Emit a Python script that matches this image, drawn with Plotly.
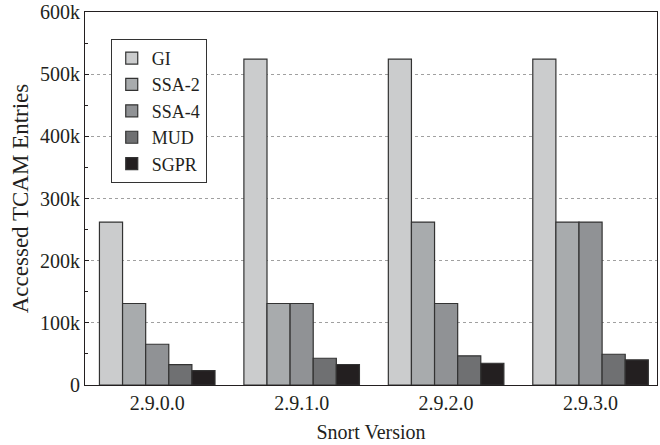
import plotly.graph_objects as go

versions = ["2.9.0.0", "2.9.1.0", "2.9.2.0", "2.9.3.0"]
series_names = ["GI", "SSA-2", "SSA-4", "MUD", "SGPR"]
gi = [262144, 524288, 524288, 524288]
ssa2 = [131072, 131072, 262144, 262144]
ssa4 = [65536, 131072, 131072, 262144]
mud = [32768, 43000, 47000, 49500]
sgpr = [23000, 33000, 35000, 40500]
colors = ["#cbcccd", "#a8abad", "#909295", "#6f7072", "#231f20"]

yticks = [0, 100000, 200000, 300000, 400000, 500000, 600000]
yticktext = ["0", "100k", "200k", "300k", "400k", "500k", "600k"]

FONT = "Liberation Serif, Times New Roman, serif"

fig = go.Figure()
for name, vals, col in zip(series_names, [gi, ssa2, ssa4, mud, sgpr], colors):
    fig.add_trace(go.Bar(
        x=list(range(len(versions))), y=vals, name=name,
        marker=dict(color=col, line=dict(color="#333333", width=1.2)),
    ))

fig.update_layout(
    width=660, height=445,
    margin=dict(l=85, r=3, t=12, b=60),
    paper_bgcolor="white", plot_bgcolor="white",
    barmode="group", bargap=0.2, bargroupgap=0,
    font=dict(family=FONT, size=20, color="#231f20"),
    legend=dict(
        x=0.045, y=0.928, xanchor="left", yanchor="top",
        bgcolor="white", bordercolor="#333333", borderwidth=1,
        font=dict(family=FONT, size=18, color="#231f20"),
        tracegroupgap=0,
    ),
    showlegend=True,
)
fig.update_xaxes(
    automargin=False,
    tickmode="array", tickvals=list(range(len(versions))), ticktext=versions,
    range=[-0.5, 3.46],
    showline=True, linecolor="#231f20", linewidth=1.2, mirror=True,
    ticks="", showgrid=False, zeroline=False,
    tickfont=dict(family=FONT, size=20),
    title=dict(text="Snort Version", font=dict(family=FONT, size=20), standoff=11),
)
fig.update_yaxes(
    automargin=False,
    range=[0, 600000],
    tickmode="array", tickvals=yticks, ticktext=yticktext,
    ticklabeloverflow="allow",
    showline=True, linecolor="#231f20", linewidth=1.2, mirror=True,
    ticks="inside", ticklen=4, tickcolor="#231f20",
    minor=dict(ticks="inside", ticklen=3, tickcolor="#231f20", dtick=50000, showgrid=False),
    showgrid=True, gridcolor="#a0a0a0", gridwidth=1, griddash="dot",
    zeroline=False,
    tickfont=dict(family=FONT, size=20),
    title=dict(text="Accessed TCAM Entries", font=dict(family=FONT, size=23), standoff=4),
)

fig.write_html("out.html")
